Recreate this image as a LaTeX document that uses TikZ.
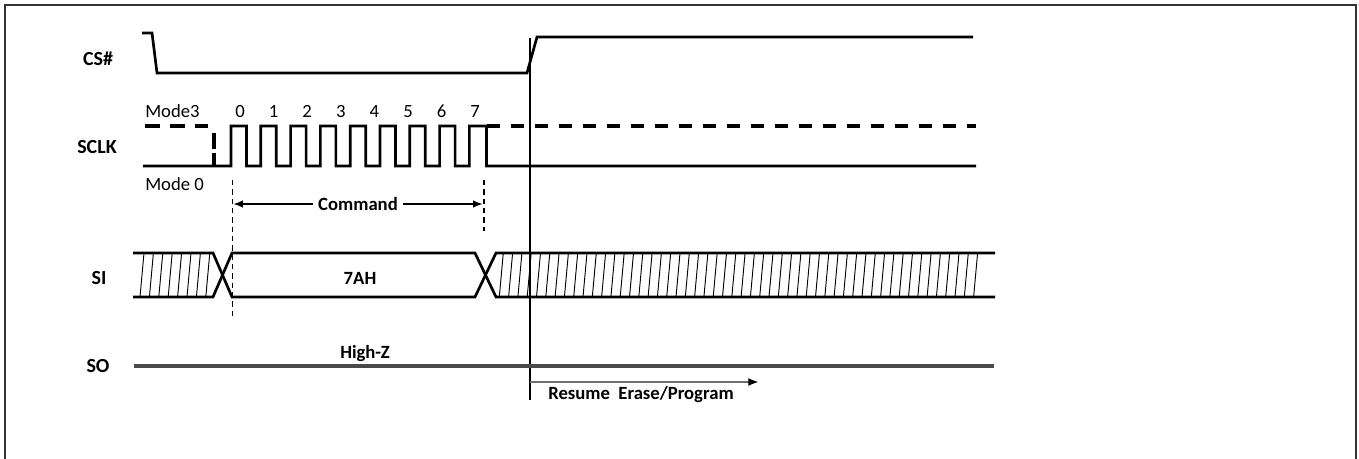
\documentclass[tikz,border=0pt]{standalone}
\usepackage{fontspec}
\setmainfont{Carlito}
\usetikzlibrary{arrows.meta, positioning, calc}
\definecolor{WaveBlack}{HTML}{000000}
\definecolor{HighZGray}{HTML}{4A4A4A}
\definecolor{ResumeGray}{HTML}{6E6E6E}
\definecolor{FrameGray}{HTML}{333333}
\tikzset{
    % Text styles
    signame/.style={
        font=\fontsize{15}{17}\selectfont\bfseries,
        inner sep=0pt
    },
    plaintext/.style={
        font=\fontsize{14}{16}\selectfont,
        inner sep=0pt
    },
    boldtext/.style={
        font=\fontsize{14}{16}\selectfont\bfseries,
        inner sep=0pt
    },
    % Line styles
    wave/.style={
        line width=2pt,
        draw=WaveBlack,
        line join=miter
    },
    dashwave/.style={
        line width=2.4pt,
        draw=WaveBlack,
        dash pattern=on 9.75pt off 8.25pt
    },
    hatch/.style={
        line width=0.7pt,
        draw=WaveBlack
    },
    marker/.style={
        line width=0.9pt,
        draw=WaveBlack,
        dash pattern=on 4pt off 3pt
    },
    cursor/.style={
        line width=1.5pt,
        draw=WaveBlack
    },
    cmdarrow/.style={
        {Latex[length=7pt,width=5.5pt]}-{Latex[length=7pt,width=5.5pt]},
        line width=0.8pt,
        draw=WaveBlack
    },
    resumearrow/.style={
        -{Latex[length=8pt,width=6pt,color=WaveBlack]},
        line width=1.6pt,
        draw=ResumeGray
    }
}
\begin{document}
\begin{tikzpicture}[x=0.75pt, y=-0.75pt]
    \useasboundingbox (0,0) rectangle (1359,459);
    % Frame
    \draw[line width=1.4pt, FrameGray] (5,470) -- (5,5) -- (1356,5) -- (1356,470);

    % Signal names
    \node[signame] (csname) at (98,59) {CS\#};
    \node[signame] (sclkname) at (97,147) {SCLK};
    \node[signame] (siname) at (99,278) {SI};
    \node[signame] (soname) at (98,366) {SO};

    % CS#
    \draw[wave] (142,33) -- (152,33) -- (157,73) -- (527,73) -- (537,37) -- (973,37);

    % Cursor line
    \coordinate (curtop) at (530,38);
    \coordinate (curbot) at (530,400);
    \draw[cursor] (curtop) -- (curbot);

    % SCLK
    \node[plaintext, anchor=base west] (mode3) at (145,118) {Mode3};
    \node[plaintext, anchor=base west] (mode0) at (145,191) {Mode 0};
    \draw[dashwave, dash pattern=on 11.25pt off 7.5pt] (145,126) -- (208,126);
    \draw[line width=2.4pt, dash pattern=on 12pt off 3pt] (214,133) -- (214,167);
    \draw[wave] (143,166) -- (231,166)
        \foreach \k in {0,...,7} {
            -- ({231+29.8*\k},126) -- ({246.5+29.8*\k},126)
            -- ({246.5+29.8*\k},166) -- ({260.8+29.8*\k},166)
        }
        -- (469.4,126) -- (486.5,126) -- (486.5,166) -- (976,166);
    \draw[dashwave] (486.5,126) -- (976,126);
    \foreach \n in {0,...,7} {
        \node[plaintext, anchor=base] (bit\n) at ({240+33.6*\n},118) {\n};
    }

    % Command
    \coordinate (mkleft) at (232.5,180);
    \coordinate (mkright) at (484,180);
    \draw[marker] (mkleft) -- (232.5,319);
    \draw[marker] (mkright) -- (484,231);
    \coordinate (cmdl) at (233.5,204);
    \coordinate (cmdr) at (482.5,204);
    \draw[cmdarrow] (cmdl) -- node[boldtext, fill=white, inner xsep=4pt] (cmd) {Command} (cmdr);

    % SI
    \draw[wave] (133,253) -- (213,253) -- (232,297) -- (475,297) -- (496,253) -- (995,253);
    \draw[wave] (133,297) -- (213,297) -- (232,253) -- (475,253) -- (496,297) -- (995,297);
    \foreach \x in {144,153.4,...,211} {
        \draw[hatch] ({\x-4},297) -- (\x,253);
    }
    \foreach \x in {503.3,512.6,...,980} {
        \draw[hatch] ({\x-4},297) -- (\x,253);
    }
    \node[boldtext] (data) at (360,278) {7AH};

    % SO
    \draw[line width=2.6pt, HighZGray] (134,366) -- (994,366);
    \node[boldtext] (highz) at (365,354) {High-Z};

    % Resume
    \coordinate (resa) at (530,382);
    \coordinate (resb) at (759,382);
    \draw[resumearrow] (resa) -- (resb);
    \node[boldtext] (resume) at (641,395) {Resume\ \ Erase/Program};
\end{tikzpicture}
\end{document}
